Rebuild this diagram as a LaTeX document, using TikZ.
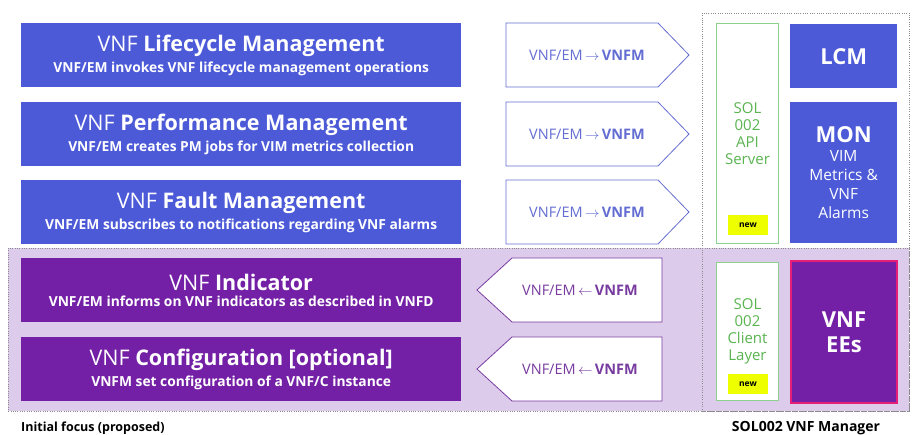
\documentclass[tikz,border=0pt]{standalone}
\usepackage{fontspec}
\setmainfont{Open Sans}
\definecolor{opblue}{RGB}{76, 90, 216}
\definecolor{oppurple}{RGB}{116, 32, 166}
\definecolor{lavender}{RGB}{221, 203, 235}
\definecolor{arrowblue}{RGB}{100, 110, 210}
\definecolor{arrowpurple}{RGB}{120, 60, 160}
\definecolor{solgreen}{RGB}{140, 210, 140}
\definecolor{soltext}{RGB}{90, 180, 80}
\definecolor{newyellow}{RGB}{238, 255, 0}
\definecolor{eepink}{RGB}{230, 30, 120}
\usetikzlibrary{positioning, calc}
\newcommand{\optitlefont}{\fontsize{21.5}{24}\selectfont}
\newcommand{\opsubfont}{\fontsize{13.8}{15}\selectfont\bfseries}

\begin{document}
\begin{tikzpicture}[x=1pt, y=-1pt,
  opbox/.style={anchor=north west, minimum width=440pt, minimum height=64pt, inner sep=0pt, text=white, align=center},
  reqarrow/.style={draw=arrowblue, fill=white, line width=0.8pt, line join=miter},
  notarrow/.style={draw=arrowpurple, fill=white, line width=0.8pt, line join=miter},
  soldot/.style={draw=black!45, line width=0.7pt, dash pattern=on 0.7pt off 1.6pt},
  solbox/.style={anchor=north west, draw=solgreen, fill=white, line width=1pt, minimum width=62pt, inner sep=0pt, text=soltext, align=center, font=\fontsize{15}{17}\selectfont},
  newtag/.style={fill=newyellow, minimum width=40pt, minimum height=20pt, inner sep=0pt, font=\fontsize{8.5}{9}\selectfont\bfseries},
  osmbox/.style={anchor=north west, fill=opblue, minimum width=107pt, inner sep=0pt, text=white, align=center}]

\useasboundingbox (0,0) rectangle (913,435);

% areas
\draw[soldot, fill=lavender] (8,248) rectangle (909,411);
\draw[soldot] (702,13) rectangle (909,411);

% VNF/EM -> VNFM operations
\node[opbox, fill=opblue] (lcmop) at (21,23) {{\optitlefont VNF \textbf{Lifecycle Management}}\\[4pt]
  {\opsubfont VNF/EM invokes VNF lifecycle management operations}};
\node[opbox, fill=opblue] (pmop) at (21,102) {{\optitlefont VNF \textbf{Performance Management}}\\[4pt]
  {\opsubfont VNF/EM creates PM jobs for VIM metrics collection}};
\node[opbox, fill=opblue] (fmop) at (21,180) {{\optitlefont VNF \textbf{Fault Management}}\\[4pt]
  {\opsubfont VNF/EM subscribes to notifications regarding VNF alarms}};

% VNFM -> VNF/EM operations
\node[opbox, fill=oppurple] (indop) at (21,258) {{\optitlefont VNF \textbf{Indicator}}\\[4pt]
  {\opsubfont VNF/EM informs on VNF indicators as described in VNFD}};
\node[opbox, fill=oppurple] (cfgop) at (21,337) {{\optitlefont VNF \textbf{Configuration [optional]}}\\[4pt]
  {\opsubfont VNFM set configuration of a VNF/C instance}};

% direction arrows
\foreach \y/\n in {23/1, 102/2, 180/3} {
  \draw[reqarrow] (506,\y) -- ++(152,0) -- ++(31,32) -- ++(-31,32) -- ++(-152,0) -- cycle;
  \node[text=arrowblue, font=\fontsize{14.5}{16}\selectfont] (req\n) at (587,\y+32) {VNF/EM\,$\rightarrow$\,\textbf{VNFM}};
}
\foreach \y/\n in {258/1, 337/2} {
  \draw[notarrow] (662,\y) -- ++(-150,0) -- ++(-35,32) -- ++(35,32) -- ++(150,0) -- cycle;
  \node[text=arrowpurple, font=\fontsize{14.5}{16}\selectfont] (not\n) at (580,\y+32) {VNF/EM\,$\leftarrow$\,\textbf{VNFM}};
}

% SOL002 VNF Manager
\node[solbox, minimum height=220pt] (apiserver) at (716,23) {SOL\\002\\API\\Server};
\node[newtag] (apinew) at (748,225) {new};
\node[solbox, minimum height=138pt] (clientlayer) at (716,262) {SOL\\002\\Client\\Layer};
\node[newtag] (clientnew) at (748,384) {new};

\node[osmbox, minimum height=64pt, font=\fontsize{22}{24}\selectfont\bfseries] (lcm) at (790,24) {LCM};
\node[osmbox, minimum height=141pt, font=\fontsize{15.5}{19}\selectfont] (mon) at (790,102)
  {{\fontsize{22}{24}\selectfont\bfseries MON}\\VIM\\Metrics \&\\VNF\\Alarms};
\node[osmbox, fill=oppurple, draw=eepink, line width=2pt, minimum width=106pt, minimum height=142pt,
  font=\fontsize{22}{25}\selectfont\bfseries] (vnfee) at (790,260) {VNF\\EEs};

% captions
\node[anchor=west, inner sep=0pt, font=\fontsize{12.5}{14}\selectfont\bfseries] (focus) at (21,428) {Initial focus (proposed)};
\node[inner sep=0pt, font=\fontsize{14}{15}\selectfont\bfseries] (manager) at (806,428) {SOL002 VNF Manager};

\end{tikzpicture}
\end{document}
